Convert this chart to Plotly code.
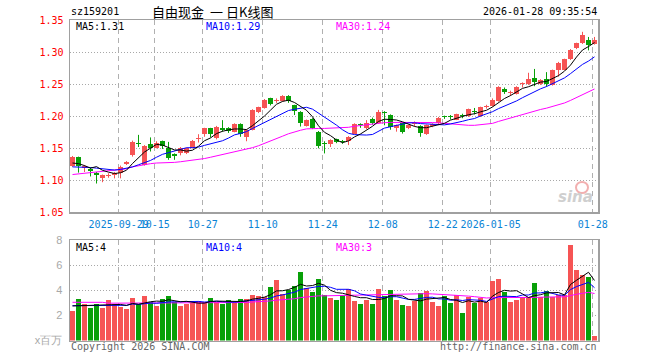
import pandas as pd
import plotly.graph_objects as go

# ---------------- data ----------------
holidays = ["2025-10-01", "2025-10-02", "2025-10-03", "2025-10-06", "2025-10-07",
            "2025-10-08", "2026-01-01", "2026-01-02"]
dates = [d.strftime("%Y-%m-%d") for d in pd.bdate_range("2025-09-17", "2026-01-28")
         if d.strftime("%Y-%m-%d") not in holidays]

opens = [1.123, 1.136, 1.119, 1.118, 1.112, 1.103, 1.106, 1.108, 1.112, 1.125,
         1.139, 1.159, 1.124, 1.157, 1.151, 1.161, 1.150, 1.141, 1.142, 1.142,
         1.151, 1.165, 1.173, 1.181, 1.166, 1.181, 1.182, 1.176, 1.188, 1.167,
         1.179, 1.207, 1.213, 1.228, 1.224, 1.224, 1.232, 1.217, 1.207, 1.185,
         1.196, 1.176, 1.158, 1.157, 1.164, 1.161, 1.161, 1.173, 1.188, 1.181,
         1.196, 1.190, 1.206, 1.202, 1.181, 1.189, 1.181, 1.188, 1.185, 1.172,
         1.185, 1.189, 1.200, 1.200, 1.195, 1.201, 1.200, 1.208, 1.200, 1.214,
         1.216, 1.224, 1.243, 1.236, 1.235, 1.250, 1.250, 1.260, 1.250, 1.258,
         1.249, 1.272, 1.273, 1.289, 1.306, 1.314, 1.320, 1.313]
highs = [1.138, 1.137, 1.124, 1.120, 1.113, 1.109, 1.111, 1.113, 1.123, 1.130,
         1.162, 1.171, 1.155, 1.167, 1.161, 1.162, 1.160, 1.142, 1.152, 1.151,
         1.163, 1.172, 1.182, 1.182, 1.185, 1.194, 1.183, 1.189, 1.189, 1.180,
         1.211, 1.215, 1.227, 1.229, 1.228, 1.233, 1.233, 1.218, 1.208, 1.195,
         1.197, 1.177, 1.161, 1.164, 1.165, 1.163, 1.169, 1.189, 1.189, 1.194,
         1.198, 1.210, 1.208, 1.203, 1.187, 1.190, 1.187, 1.192, 1.186, 1.187,
         1.189, 1.199, 1.201, 1.202, 1.204, 1.204, 1.212, 1.213, 1.215, 1.218,
         1.228, 1.247, 1.245, 1.240, 1.247, 1.253, 1.268, 1.274, 1.258, 1.269,
         1.273, 1.285, 1.290, 1.305, 1.315, 1.332, 1.324, 1.324]
lows = [1.121, 1.112, 1.113, 1.106, 1.095, 1.097, 1.104, 1.103, 1.103, 1.124,
        1.137, 1.152, 1.123, 1.145, 1.150, 1.149, 1.132, 1.132, 1.139, 1.141,
        1.150, 1.159, 1.168, 1.167, 1.164, 1.176, 1.174, 1.175, 1.168, 1.161,
        1.178, 1.205, 1.212, 1.217, 1.221, 1.223, 1.221, 1.202, 1.184, 1.184,
        1.180, 1.150, 1.142, 1.152, 1.158, 1.157, 1.155, 1.172, 1.182, 1.180,
        1.187, 1.189, 1.186, 1.179, 1.176, 1.173, 1.180, 1.184, 1.168, 1.171,
        1.183, 1.188, 1.196, 1.195, 1.194, 1.197, 1.199, 1.203, 1.199, 1.212,
        1.215, 1.223, 1.235, 1.232, 1.234, 1.245, 1.249, 1.247, 1.249, 1.246,
        1.248, 1.262, 1.272, 1.288, 1.305, 1.313, 1.303, 1.312]
closes = [1.137, 1.123, 1.123, 1.115, 1.109, 1.108, 1.109, 1.112, 1.121, 1.129,
          1.160, 1.157, 1.154, 1.151, 1.159, 1.154, 1.135, 1.138, 1.151, 1.150,
          1.161, 1.166, 1.181, 1.173, 1.184, 1.179, 1.177, 1.188, 1.173, 1.179,
          1.210, 1.214, 1.226, 1.219, 1.225, 1.232, 1.224, 1.208, 1.189, 1.194,
          1.181, 1.154, 1.157, 1.163, 1.160, 1.160, 1.168, 1.188, 1.186, 1.190,
          1.190, 1.206, 1.205, 1.184, 1.186, 1.176, 1.186, 1.189, 1.174, 1.186,
          1.188, 1.198, 1.199, 1.199, 1.203, 1.200, 1.211, 1.207, 1.214, 1.215,
          1.226, 1.246, 1.238, 1.237, 1.246, 1.251, 1.259, 1.254, 1.257, 1.251,
          1.272, 1.284, 1.289, 1.304, 1.314, 1.327, 1.311, 1.320]
volumes = [2.36, 3.32, 2.92, 2.60, 2.92, 2.60, 3.24, 2.92, 2.71, 2.52,
           3.40, 2.92, 3.56, 3.08, 2.76, 3.32, 3.56, 3.08, 2.76, 2.92,
           3.00, 3.16, 3.08, 3.40, 3.08, 2.92, 3.24, 3.00, 3.32, 3.32,
           3.64, 3.56, 3.48, 4.28, 4.84, 3.70, 4.04, 4.36, 5.48, 4.17,
           3.88, 4.92, 3.64, 3.43, 3.24, 3.64, 4.12, 3.16, 2.92, 3.24,
           2.92, 4.12, 3.56, 4.04, 3.24, 2.84, 2.76, 3.16, 3.80, 3.96,
           3.08, 2.76, 3.56, 3.00, 3.64, 2.20, 3.48, 3.00, 3.40, 3.08,
           4.76, 4.92, 3.88, 3.08, 3.24, 3.48, 3.48, 4.60, 3.48, 3.96,
           3.48, 3.64, 3.64, 7.64, 5.64, 5.24, 5.08, 0.36]

# moving-average values before enough history is inside the window
ma5_head = [1.127, 1.126, 1.123, 1.119]
ma10_head = [1.121, 1.121, 1.121, 1.120, 1.119, 1.118, 1.117, 1.116, 1.117]
ma30_head = [1.109, 1.110, 1.111, 1.112, 1.113, 1.114, 1.115, 1.116, 1.117, 1.118,
             1.121, 1.123, 1.125, 1.126, 1.127, 1.127, 1.128, 1.128, 1.129, 1.130,
             1.131, 1.132, 1.134, 1.136, 1.138, 1.140, 1.142, 1.144, 1.146]
vma5_head = [2.76, 2.78, 2.80, 2.82]
vma10_head = [2.78, 2.78, 2.80, 2.80, 2.82, 2.82, 2.82, 2.80, 2.78]
vma30_head = [3.05, 3.05, 3.05, 3.05, 3.05, 3.05, 2.98, 2.98, 2.98, 2.98,
              2.98, 2.98, 2.98, 2.98, 2.98, 2.98, 2.98, 2.98, 2.98, 2.98,
              2.98, 2.98, 2.98, 2.98, 2.98, 2.98, 2.98, 2.98, 2.98]

tick_dates = ["2025-09-29", "2025-10-15", "2025-10-27", "2025-11-10", "2025-11-24",
              "2025-12-08", "2025-12-22", "2026-01-05", "2026-01-28"]
tick_labels = ["2025-09-29", "10-15", "10-27", "11-10", "11-24",
               "12-08", "12-22", "2026-01-05", "01-28"]
price_ticks = [1.05, 1.10, 1.15, 1.20, 1.25, 1.30, 1.35]
vol_ticks = [0, 2, 4, 6, 8]
vol_tick_labels = ["x百万", "2", "4", "6", "8"]

# ---------------- derived ----------------
n = len(closes)
idx = list(range(n))


def moving(vals, w, head):
    s = pd.Series(vals).rolling(w).mean().tolist()
    return head + s[len(head):]


ma5 = moving(closes, 5, ma5_head)
ma10 = moving(closes, 10, ma10_head)
ma30 = moving(closes, 30, ma30_head)
vma5 = moving(volumes, 5, vma5_head)
vma10 = moving(volumes, 10, vma10_head)
vma30 = moving(volumes, 30, vma30_head)

RED = "#F65454"
GREEN = "#08A008"
W, H = 660, 360
X0, X1 = 70, 598
PY0, PY1 = 20.3, 212.3
VY0, VY1 = 240.3, 340.5
BAR_W = 5 / 6
MIN_BODY = 0.0016

fig = go.Figure()

up = [i for i in idx if closes[i] >= opens[i]]
dn = [i for i in idx if closes[i] < opens[i]]

for group, col in ((up, RED), (dn, GREEN)):
    wx, wy = [], []
    for i in group:
        wx += [i, i, None]
        wy += [lows[i], highs[i], None]
    fig.add_trace(go.Scatter(x=wx, y=wy, mode="lines", line=dict(color=col, width=1),
                             hoverinfo="skip", xaxis="x", yaxis="y"))
    fig.add_trace(go.Bar(
        x=group,
        y=[max(abs(closes[i] - opens[i]), MIN_BODY) for i in group],
        base=[min(opens[i], closes[i]) for i in group],
        width=BAR_W, marker=dict(color=col, line=dict(width=0)),
        xaxis="x", yaxis="y"))
    fig.add_trace(go.Bar(
        x=group, y=[volumes[i] for i in group], width=BAR_W,
        marker=dict(color=col, line=dict(width=0)), xaxis="x2", yaxis="y2"))

for vals, col in ((ma30, "#FF00FF"), (ma10, "#0000FF"), (ma5, "#000000")):
    fig.add_trace(go.Scatter(x=idx, y=vals, mode="lines", line=dict(color=col, width=1),
                             xaxis="x", yaxis="y"))
for vals, col in ((vma30, "#FF00FF"), (vma10, "#0000FF"), (vma5, "#000000")):
    fig.add_trace(go.Scatter(x=idx, y=vals, mode="lines", line=dict(color=col, width=1),
                             xaxis="x2", yaxis="y2"))

tick_pos = [dates.index(d) - 0.3 for d in tick_dates]
xr = [(X0 - 72.5) / 6, (X1 - 72.5) / 6]
MONO = "DejaVu Sans Mono"
AXC = "#A0A0A0"

xcommon = dict(range=xr, showline=True, mirror=True, linecolor=AXC, linewidth=1.5,
               ticks="", zeroline=False, showgrid=True, gridcolor="#B0B0B0",
               griddash="5px,4px", gridwidth=1, tickvals=tick_pos, fixedrange=True,
               automargin=False, tickangle=0)

fig.update_layout(
    width=W, height=H, margin=dict(l=0, r=0, t=0, b=0, autoexpand=False),
    paper_bgcolor="white", plot_bgcolor="white", showlegend=False,
    barmode="overlay", bargap=0,
    xaxis=dict(domain=[X0 / W, X1 / W], anchor="y", ticktext=tick_labels,
               tickfont=dict(family=MONO, size=10, color="#0A84D6"),
               ticklabelstandoff=2, **xcommon),
    xaxis2=dict(domain=[X0 / W, X1 / W], anchor="y2", showticklabels=False, **xcommon),
    yaxis=dict(domain=[1 - PY1 / H, 1 - PY0 / H], anchor="x", range=[1.05, 1.35],
               tickvals=price_ticks, ticktext=[f"{v:.2f}" for v in price_ticks],
               tickfont=dict(family=MONO, size=10, color="#FF0000"),
               showline=True, mirror=True, linecolor=AXC, linewidth=1.5, ticks="",
               showgrid=True, gridcolor="#A8A8A8", griddash="1px,2px", zeroline=False,
               ticklabelstandoff=3, automargin=False, fixedrange=True),
    yaxis2=dict(domain=[1 - VY1 / H, 1 - VY0 / H], anchor="x2", range=[0, 8],
                tickvals=vol_ticks, ticktext=vol_tick_labels,
                tickfont=dict(family="Liberation Sans", size=11, color="#A8A8A8"),
                showline=True, mirror=True, linecolor=AXC, linewidth=1.5, ticks="",
                showgrid=True, gridcolor="#A8A8A8", griddash="1px,2px", zeroline=False,
                ticklabelstandoff=4, automargin=False, fixedrange=True),
)


def ann(text, x, y, size=10, color="#000000", xanchor="left", family=MONO, **kw):
    fig.add_annotation(text=text, x=x / W, y=1 - y / H, xref="paper", yref="paper",
                       xanchor=xanchor, yanchor="middle", showarrow=False,
                       font=dict(family=family, size=size, color=color, **kw))


CJK = "Noto Sans CJK SC"
ann("sz159201", 69, 12)
ann("自由现金", 150, 12, size=13, family=CJK)
ann("一", 216, 12, size=13, xanchor="center", family=CJK)
ann("日K线图", 275, 12, size=13, xanchor="right", family=CJK)
ann("2026-01-28 09:35:54", 599, 12, xanchor="right")
ann("MA5:1.31", 74, 27)
ann("MA10:1.29", 204, 27, color="#0000FF")
ann("MA30:1.24", 334, 27, color="#FF00FF")
ann("MA5:4", 74, 247)
ann("MA10:4", 204, 247, color="#0000FF")
ann("MA30:3", 334, 247, color="#FF00FF")
ann("Copyright 2026 SINA.COM", 69, 346, color="#666666")
ann("http://finance.sina.com.cn", 599, 346, color="#666666", xanchor="right")
ann("sina", 595, 197, size=15, color="#CFCFCF", xanchor="right",
    family="DejaVu Sans", weight="bold", style="italic")
fig.add_shape(type="circle", xref="paper", yref="paper",
              x0=576 / W, x1=588 / W, y0=1 - 193 / H, y1=1 - 182 / H,
              line=dict(color="#F2B0B0", width=2), fillcolor="rgba(0,0,0,0)")

fig.write_html("out.html",
               config={"displayModeBar": False, "staticPlot": True},
               post_script="document.body.style.margin='0';"
                           "document.body.style.overflow='hidden';")
